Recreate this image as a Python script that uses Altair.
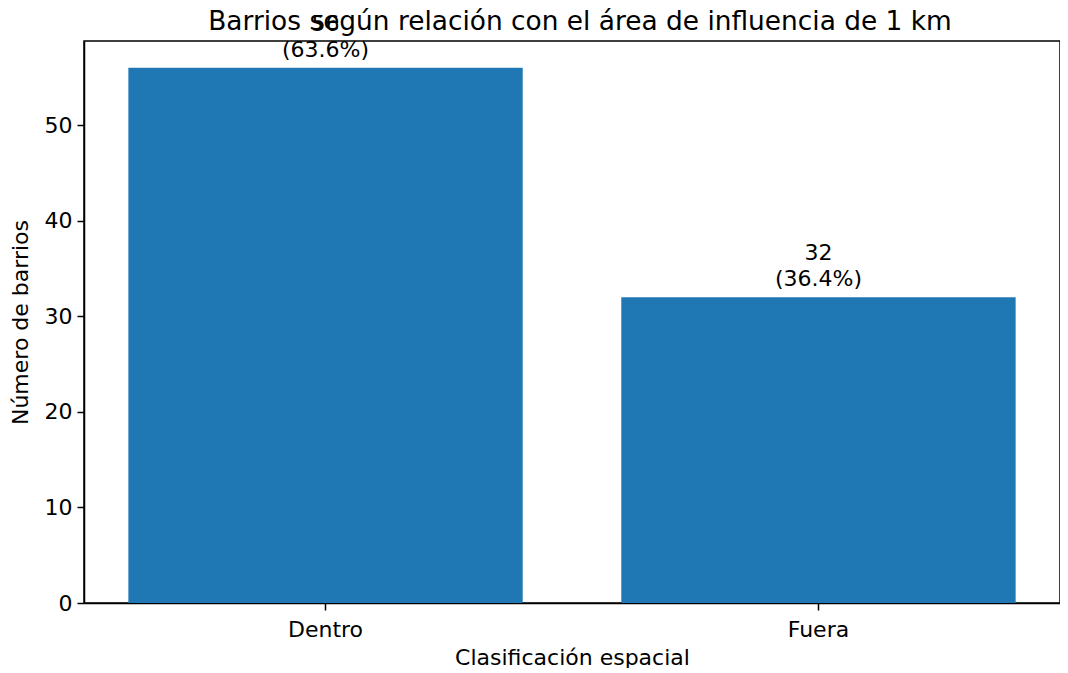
import altair as alt
import pandas as pd

categories = ["Dentro", "Fuera"]
counts = [56, 32]
percent_labels = ["63.6%", "36.4%"]
title_text = ["Barrios según relación con el área de influencia de 1 km"]

df = pd.DataFrame({"cat": categories, "n": counts, "pct": percent_labels})
df["label"] = df["n"].astype(str) + "\n(" + df["pct"] + ")"

FONT = "DejaVu Sans"
FS = 22
W, H = 976, 562

x = alt.X("cat:N", sort=categories,
          scale=alt.Scale(paddingInner=0.2, paddingOuter=0.09),
          axis=alt.Axis(title="Clasificación espacial", labelAngle=0, labelFontSize=FS,
                        titleFontSize=FS, labelFont=FONT, titleFont=FONT, labelColor="black",
                        titleColor="black", titleFontWeight="normal", tickSize=7, tickWidth=1.5,
                        tickColor="black", domainColor="black", domainWidth=1.5,
                        labelPadding=9, titlePadding=7))
y = alt.Y("n:Q", scale=alt.Scale(domain=[0, 58.8], nice=False, zero=True),
          axis=alt.Axis(title="Número de barrios", values=[0, 10, 20, 30, 40, 50],
                        labelFontSize=FS, titleFontSize=FS, labelFont=FONT, titleFont=FONT,
                        labelColor="black", titleColor="black", titleFontWeight="normal",
                        tickSize=7, tickWidth=1.5, tickColor="black", domainColor="black",
                        domainWidth=1.5, grid=False, labelPadding=5, titlePadding=12))

bars = alt.Chart(df).mark_bar(color="#1f77b4").encode(x=x, y=y)
text = alt.Chart(df).mark_text(baseline="bottom", dy=-32, fontSize=FS, font=FONT,
                               color="black", lineBreak="\n", lineHeight=26).encode(
    x=alt.X("cat:N", sort=categories), y="n:Q", text="label:N")

title = alt.Chart(pd.DataFrame({"t": title_text})).mark_text(
    fontSize=26.4, font=FONT, color="black", align="center", baseline="alphabetic"
).encode(text="t:N", x=alt.value(W / 2 + 8), y=alt.value(-11))

chart = (bars + text + title).properties(
    width=W, height=H,
    autosize=alt.AutoSizeParams(type="none"),
    padding={"left": 76, "top": 33, "right": 0, "bottom": 65},
).configure_view(stroke="black", strokeWidth=1.5)

chart.save("out.html", embed_options={"renderer": "svg", "actions": False})
